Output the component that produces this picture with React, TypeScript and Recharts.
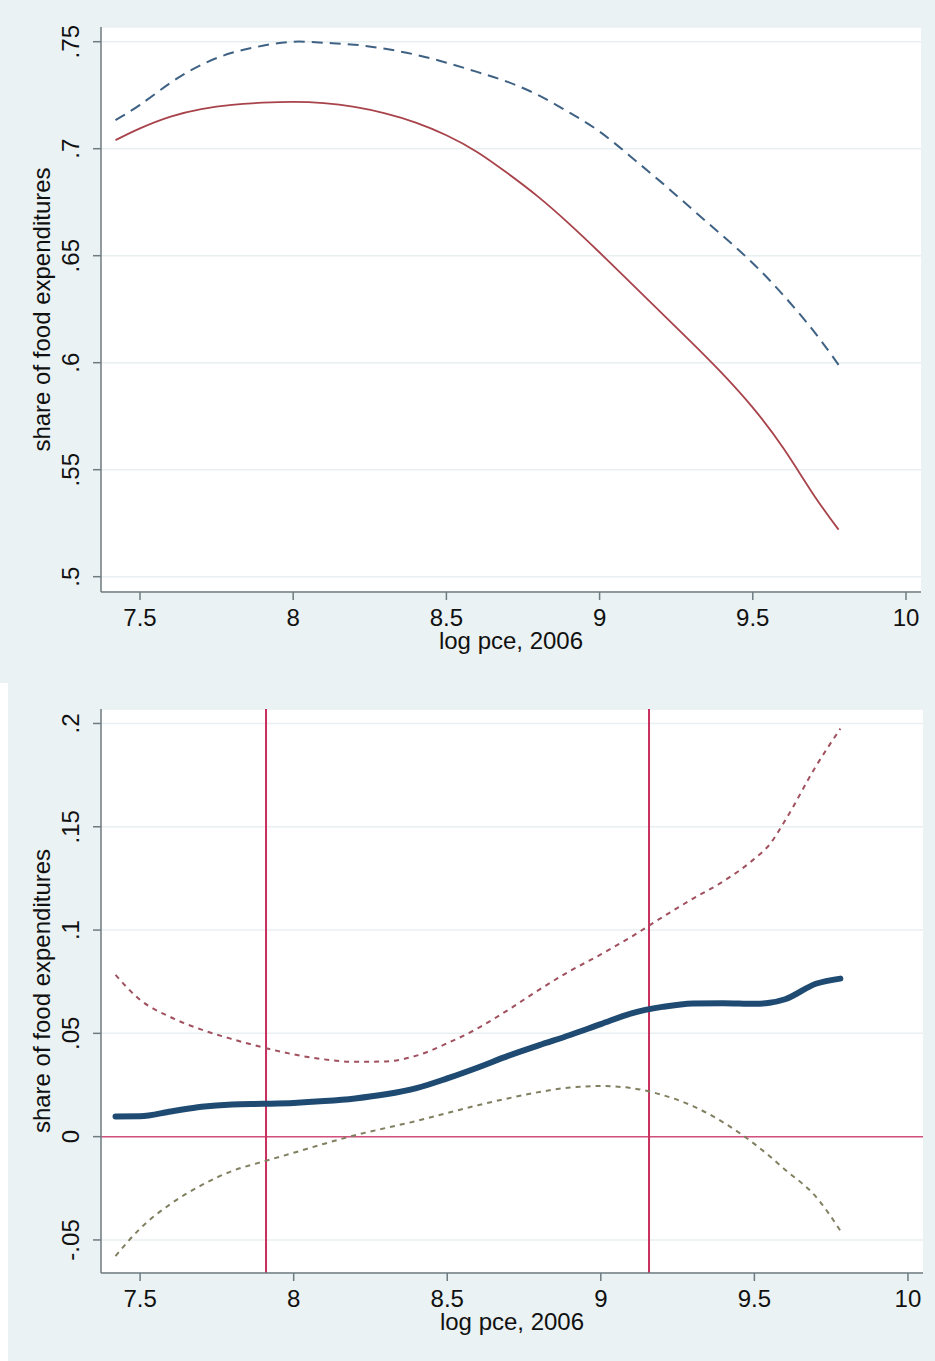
import React from 'react';
import {
  LineChart,
  Line,
  XAxis,
  YAxis,
  CartesianGrid,
  ReferenceLine,
} from 'recharts';

// log pce grid for the top panel
const X_SHARE = [
  7.42, 7.5, 7.6, 7.7, 7.8, 7.9, 8.0, 8.1, 8.2, 8.3, 8.4, 8.5, 8.6, 8.7, 8.8,
  8.9, 9.0, 9.1, 9.2, 9.3, 9.4, 9.5, 9.6, 9.7, 9.78,
];
const SHARE_SOLID = [
  0.704, 0.7095, 0.715, 0.7185, 0.7205, 0.7215, 0.7219, 0.7213, 0.7195, 0.7165,
  0.7122, 0.7063, 0.6985, 0.6885, 0.6775, 0.665, 0.6515, 0.6375, 0.6235, 0.6095,
  0.595, 0.579, 0.56, 0.538, 0.522,
];
const SHARE_DASHED = [
  0.7134, 0.7205, 0.7308, 0.7392, 0.7448, 0.7481, 0.750, 0.7495, 0.7486, 0.7467,
  0.7439, 0.7402, 0.7359, 0.7312, 0.725, 0.717, 0.708, 0.6965, 0.6845,
  0.672, 0.6595, 0.6465, 0.6315, 0.6145, 0.599,
];

// bottom panel: difference with confidence band
const X_DIFF = [
  7.42, 7.5, 7.6, 7.7, 7.8, 7.9, 8.0, 8.1, 8.2, 8.3, 8.4, 8.5, 8.6, 8.7, 8.8,
  8.9, 9.0, 9.1, 9.2, 9.3, 9.4, 9.5, 9.55, 9.6, 9.7, 9.78,
];
const DIFF = [
  0.0098, 0.0099, 0.0122, 0.0145, 0.0156, 0.0159, 0.0163, 0.0172, 0.0185,
  0.0205, 0.0235, 0.0282, 0.0335, 0.0392, 0.0443, 0.0492, 0.0545, 0.0597,
  0.0628, 0.0645, 0.0646, 0.0643, 0.0648, 0.0665, 0.074, 0.0765,
];
const DIFF_UPPER = [
  0.0783, 0.0662, 0.0578, 0.0518, 0.0472, 0.0432, 0.0398, 0.0374, 0.0362,
  0.0364, 0.0392, 0.0452, 0.0525, 0.0615, 0.0712, 0.0802, 0.0882, 0.0968,
  0.1062, 0.1152, 0.1237, 0.1345, 0.1415, 0.153, 0.1792, 0.1975,
];
const DIFF_LOWER = [
  -0.0578, -0.0445, -0.0325, -0.0235, -0.0166, -0.0121, -0.0078, -0.0034,
  0.0007, 0.0042, 0.0076, 0.0114, 0.0152, 0.0186, 0.0216, 0.0238, 0.0245,
  0.0235, 0.0202, 0.0148, 0.0068, -0.0035, -0.0095, -0.016, -0.029, -0.0455,
];
const CUTOFFS = [7.91, 9.157];

const X_TICKS = [7.5, 8, 8.5, 9, 9.5, 10];
const X_TICK_LABELS = ['7.5', '8', '8.5', '9', '9.5', '10'];
const SHARE_TICKS = [0.5, 0.55, 0.6, 0.65, 0.7, 0.75];
const SHARE_TICK_LABELS = ['.5', '.55', '.6', '.65', '.7', '.75'];
const DIFF_TICKS = [-0.05, 0, 0.05, 0.1, 0.15, 0.2];
const DIFF_TICK_LABELS = ['-.05', '0', '.05', '.1', '.15', '.2'];

const FONT = '"Liberation Sans", Arial, Helvetica, sans-serif';
const BG = '#EAF2F3';
const AXIS = '#6E7B80';
const GRID = '#E8F0F2';

const shareData = X_SHARE.map((x, i) => ({
  x,
  solid: SHARE_SOLID[i],
  dashed: SHARE_DASHED[i],
}));
const diffData = X_DIFF.map((x, i) => ({
  x,
  diff: DIFF[i],
  upper: DIFF_UPPER[i],
  lower: DIFF_LOWER[i],
}));

const labelFor = (ticks: number[], labels: string[], v: number) => {
  const i = ticks.findIndex((t) => Math.abs(t - v) < 1e-9);
  return i >= 0 ? labels[i] : String(v);
};

const makeXTick = (props: any) => {
  const { x, y, payload } = props;
  return (
    <text
      x={x}
      y={y + 24}
      textAnchor="middle"
      fontFamily={FONT}
      fontSize={24}
      fill="#111"
    >
      {labelFor(X_TICKS, X_TICK_LABELS, payload.value)}
    </text>
  );
};

const makeYTick = (ticks: number[], labels: string[]) => (props: any) => {
  const { x, y, payload } = props;
  const bx = x - 12;
  return (
    <text
      x={bx}
      y={y}
      transform={`rotate(-90, ${bx}, ${y})`}
      textAnchor="middle"
      fontFamily={FONT}
      fontSize={24}
      fill="#111"
    >
      {labelFor(ticks, labels, payload.value)}
    </text>
  );
};

const xTitle = (props: any) => {
  const vb = props.viewBox || {};
  const cx = vb.x + vb.width / 2;
  return (
    <text
      x={cx}
      y={vb.y + 57}
      textAnchor="middle"
      fontFamily={FONT}
      fontSize={24}
      fill="#111"
    >
      log pce, 2006
    </text>
  );
};

const yTitle = (props: any) => {
  const vb = props.viewBox || {};
  const bx = 50;
  const cy = vb.y + vb.height / 2;
  return (
    <text
      x={bx}
      y={cy}
      transform={`rotate(-90, ${bx}, ${cy})`}
      textAnchor="middle"
      fontFamily={FONT}
      fontSize={24}
      fill="#111"
    >
      share of food expenditures
    </text>
  );
};

function SharePanel() {
  return (
    <LineChart
      width={935}
      height={680}
      data={shareData}
      margin={{ top: 27, right: 14, bottom: 0, left: 0 }}
    >
      <CartesianGrid
        vertical={false}
        stroke={GRID}
        strokeWidth={1.5}
        fill="#ffffff"
        fillOpacity={1}
      />
      <XAxis
        type="number"
        dataKey="x"
        domain={[7.3727, 10.049]}
        ticks={X_TICKS}
        allowDataOverflow
        height={88}
        stroke={AXIS}
        strokeWidth={1.5}
        tickSize={8}
        tick={makeXTick}
        label={{ content: xTitle }}
      />
      <YAxis
        type="number"
        domain={[0.49285, 0.75687]}
        ticks={SHARE_TICKS}
        allowDataOverflow
        width={101}
        stroke={AXIS}
        strokeWidth={1.5}
        tickSize={8}
        tick={makeYTick(SHARE_TICKS, SHARE_TICK_LABELS)}
        label={{ content: yTitle }}
      />
      <Line
        type="natural"
        dataKey="dashed"
        stroke="#3F6284"
        strokeWidth={2}
        strokeDasharray="11 7"
        dot={false}
        isAnimationActive={false}
      />
      <Line
        type="natural"
        dataKey="solid"
        stroke="#A8434B"
        strokeWidth={1.8}
        dot={false}
        isAnimationActive={false}
      />
    </LineChart>
  );
}

function DiffPanel() {
  return (
    <LineChart
      width={935}
      height={681}
      data={diffData}
      margin={{ top: 29, right: 12, bottom: 0, left: 0 }}
    >
      <CartesianGrid
        vertical={false}
        stroke={GRID}
        strokeWidth={1.5}
        fill="#ffffff"
        fillOpacity={1}
      />
      <XAxis
        type="number"
        dataKey="x"
        domain={[7.3727, 10.049]}
        ticks={X_TICKS}
        allowDataOverflow
        height={88}
        stroke={AXIS}
        strokeWidth={1.5}
        tickSize={8}
        tick={makeXTick}
        label={{ content: xTitle }}
      />
      <YAxis
        type="number"
        domain={[-0.066, 0.207]}
        ticks={DIFF_TICKS}
        allowDataOverflow
        width={101}
        stroke={AXIS}
        strokeWidth={1.5}
        tickSize={8}
        tick={makeYTick(DIFF_TICKS, DIFF_TICK_LABELS)}
        label={{ content: yTitle }}
      />
      <ReferenceLine y={0} stroke="#D4507C" strokeWidth={1.5} />
      {CUTOFFS.map((c) => (
        <ReferenceLine key={c} x={c} stroke="#C92F5E" strokeWidth={2} />
      ))}
      <Line
        type="monotone"
        dataKey="upper"
        stroke="#A0505E"
        strokeWidth={2}
        strokeDasharray="5 5"
        dot={false}
        isAnimationActive={false}
      />
      <Line
        type="monotone"
        dataKey="lower"
        stroke="#807F60"
        strokeWidth={2}
        strokeDasharray="5 5"
        dot={false}
        isAnimationActive={false}
      />
      <Line
        type="monotone"
        dataKey="diff"
        stroke="#1F4B73"
        strokeWidth={6}
        strokeLinecap="round"
        dot={false}
        isAnimationActive={false}
      />
    </LineChart>
  );
}

export default function App() {
  return (
    <div
      style={{
        position: 'absolute',
        left: 0,
        top: 0,
        width: 935,
        height: 1361,
        background: BG,
        overflow: 'hidden',
      }}
    >
      <div style={{ position: 'absolute', left: 0, top: 683, width: 8, height: 678, background: '#fff' }} />
      <div style={{ position: 'absolute', left: 0, top: 0 }}>
        <SharePanel />
      </div>
      <div style={{ position: 'absolute', left: 0, top: 680 }}>
        <DiffPanel />
      </div>
    </div>
  );
}
